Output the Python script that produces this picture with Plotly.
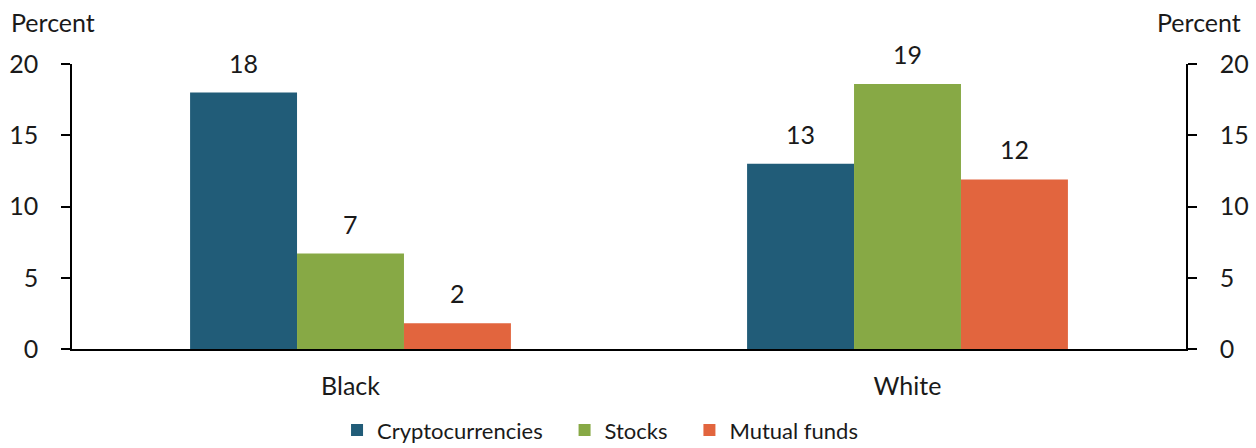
import plotly.graph_objects as go

categories = ["Black", "White"]
series_names = ["Cryptocurrencies", "Stocks", "Mutual funds"]
crypto = [18.0, 13.0]
stocks = [6.7, 18.6]
mutual = [1.8, 11.9]
y_ticks = [0, 5, 10, 15, 20]
colors = ["#215C78", "#87A945", "#E2653E"]

FONT = "Lato"
TXT = "#1a1a1a"
W, H = 1256, 448
ML, MR, MT, MB = 72, 70, 64, 99
BARGAP = 0.424
plot_w = W - ML - MR
bar_px = plot_w / len(categories) * (1 - BARGAP) / len(series_names)

NB = "\u00a0" * 3
legend_names = [series_names[0] + NB, series_names[1] + NB, series_names[2]]

fig = go.Figure()
annotations = []
all_vals = [crypto, stocks, mutual]
for i, (name, vals, col) in enumerate(zip(legend_names, all_vals, colors)):
    fig.add_trace(go.Bar(
        x=categories, y=vals, name=name, marker=dict(color=col, line=dict(width=0)),
    ))
    for c, v in zip(categories, vals):
        annotations.append(dict(
            x=c, y=v, xref="x", yref="y", text=f"{v:.0f}", showarrow=False,
            xanchor="center", yanchor="bottom", xshift=(i - 1) * bar_px, yshift=13,
            font=dict(size=25, color=TXT, family=FONT),
        ))
# invisible trace to activate the right axis
fig.add_trace(go.Scatter(x=categories, y=[0, 0], yaxis="y2", mode="markers",
                         marker=dict(opacity=0), showlegend=False, hoverinfo="skip"))

annotations += [
    dict(text="Percent", xref="paper", yref="paper", x=-0.057, y=1.147,
         xanchor="left", yanchor="middle", showarrow=False, font=dict(size=25)),
    dict(text="Percent", xref="paper", yref="paper", x=1.0512, y=1.147,
         xanchor="right", yanchor="middle", showarrow=False, font=dict(size=25)),
]

axis_common = dict(range=[0, 20], tickvals=y_ticks, showline=True, linecolor="black",
                   linewidth=1.5, ticks="outside", ticklen=9, tickwidth=1.5,
                   tickcolor="black", showgrid=False, zeroline=False,
                   tickfont=dict(size=25), ticklabelstandoff=18)

fig.update_layout(
    width=W, height=H,
    margin=dict(l=ML, r=MR, t=MT, b=MB, autoexpand=False),
    paper_bgcolor="white", plot_bgcolor="white",
    barmode="group", bargap=BARGAP, bargroupgap=0,
    font=dict(family=FONT, size=25, color=TXT),
    xaxis=dict(showline=True, linecolor="black", linewidth=1.5, ticks="",
               tickfont=dict(size=25), showgrid=False, ticklabelstandoff=14),
    yaxis=axis_common,
    yaxis2=dict(axis_common, overlaying="y", side="right"),
    legend=dict(orientation="h", x=0.474, xanchor="center", y=-0.285, yanchor="middle",
                font=dict(size=22), traceorder="normal"),
    annotations=annotations,
)
fig.write_html(
    "out.html",
    config={"displayModeBar": False},
    post_script="document.body.style.margin='0';document.body.style.overflow='hidden';",
)
